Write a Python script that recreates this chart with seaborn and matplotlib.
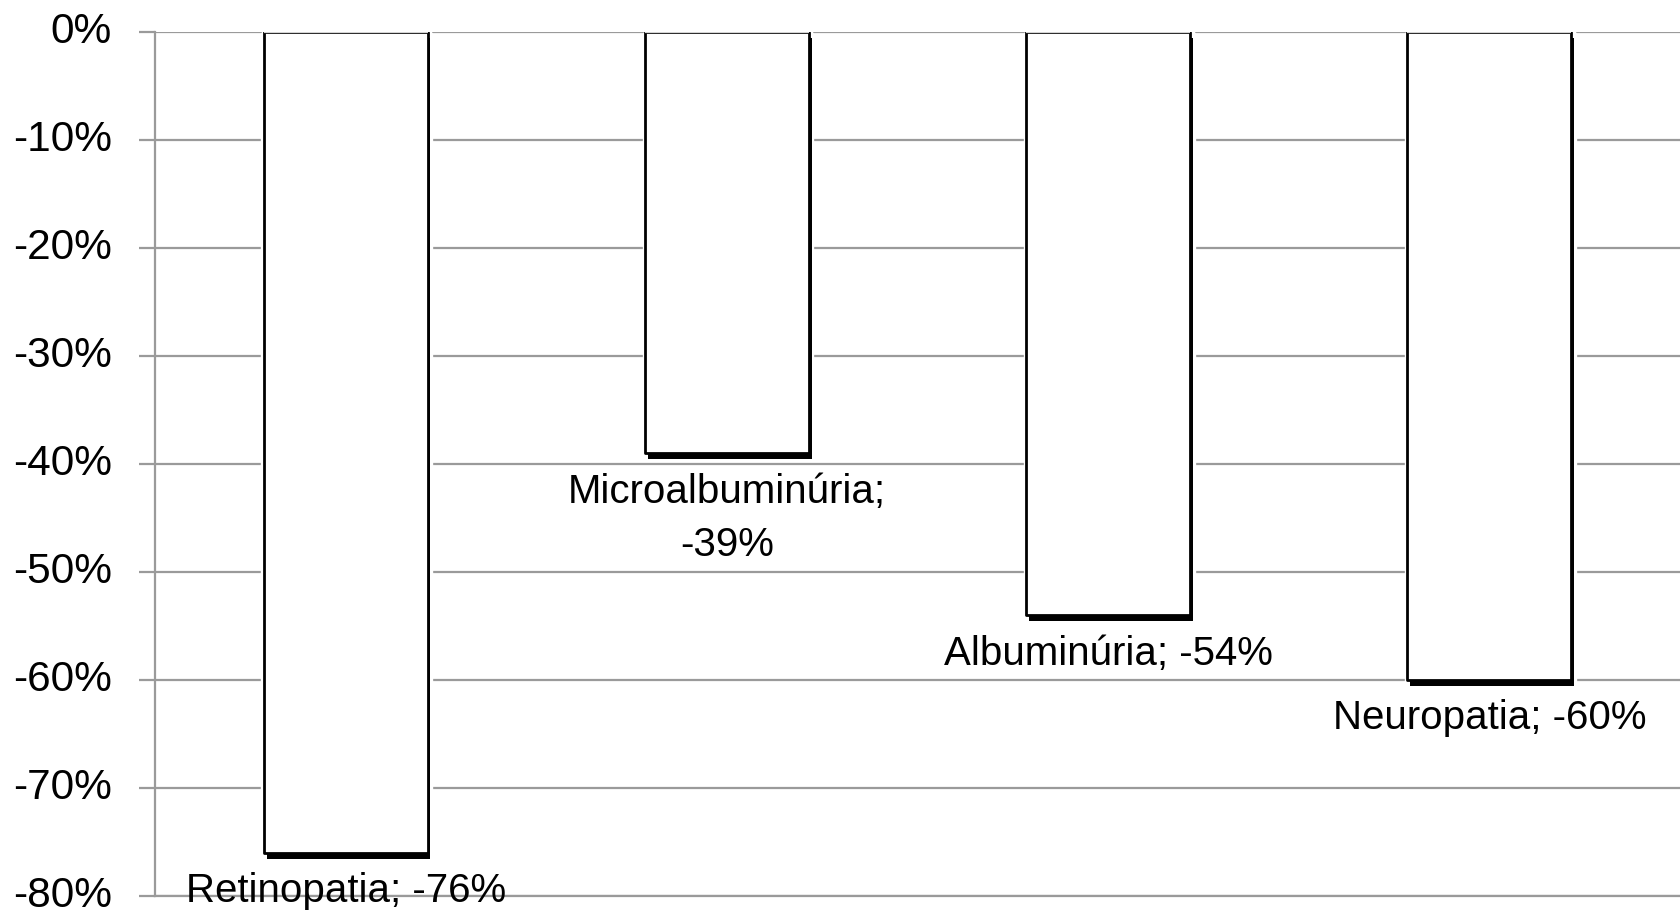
import matplotlib
matplotlib.use("Agg")
import matplotlib.pyplot as plt
import matplotlib.patheffects as pe
from matplotlib.ticker import FuncFormatter
import seaborn as sns
import pandas as pd

# Redução relativa de complicações
categories = ["Retinopatia", "Microalbuminúria", "Albuminúria", "Neuropatia"]
values = [-76, -39, -54, -60]
label_texts = ["Retinopatia; -76%", "Microalbuminúria;\n-39%", "Albuminúria; -54%", "Neuropatia; -60%"]
y_ticks = [0, -10, -20, -30, -40, -50, -60, -70, -80]

sns.set_theme(style="white")
plt.rcParams["font.family"] = ["Liberation Sans", "DejaVu Sans"]

df = pd.DataFrame({"categoria": categories, "valor": values})

fig = plt.figure(figsize=(16.8, 9.15), dpi=100)
ax = fig.add_axes([0.0925, 0.021, 0.9075, 0.944])

grid_color = "#9a9a9a"

sns.barplot(data=df, x="categoria", y="valor", color="white", width=0.43,
            edgecolor="black", linewidth=2.0, ax=ax, zorder=3)

for patch in ax.patches:
    patch.set_clip_on(True)
    patch.set_joinstyle("round")
    patch.set_path_effects([
        pe.Stroke(linewidth=6, foreground="white", offset=(1.0, -2.5)),
        pe.SimplePatchShadow(offset=(1.8, -4.5), shadow_rgbFace="black", alpha=1.0, rho=1),
        pe.Normal(),
    ])
    # faint top edge along the zero line
    ax.hlines(0, patch.get_x(), patch.get_x() + patch.get_width(),
              color="#d4d4d4", linewidth=1.6, zorder=5)

ax.set_ylim(-80, 0)
ax.set_xlim(-0.5, 3.5)
ax.set_yticks(y_ticks)
ax.yaxis.set_major_formatter(FuncFormatter(lambda v, _: f"{int(round(v))}%"))
ax.set_xticks([])
ax.set_xlabel("")
ax.set_ylabel("")

ax.grid(axis="y", color=grid_color, linewidth=1.6, zorder=0)
ax.set_axisbelow(True)

for side in ["top", "right"]:
    ax.spines[side].set_visible(False)
ax.spines["bottom"].set_color(grid_color)
ax.spines["bottom"].set_linewidth(1.6)
ax.spines["left"].set_color(grid_color)
ax.spines["left"].set_linewidth(1.6)

ax.tick_params(axis="y", which="major", direction="out", length=11.5, width=1.6,
               color=grid_color, labelsize=30.5, labelcolor="black", pad=20, left=True)
for lbl in ax.get_yticklabels():
    lbl.set_verticalalignment("center")

for i, (v, txt) in enumerate(zip(values, label_texts)):
    ax.annotate(txt, xy=(i, v), xytext=(0, -14), textcoords="offset points",
                ha="center", va="top", fontsize=29, color="black",
                linespacing=1.5, zorder=6, annotation_clip=False)

fig.savefig("out.png", dpi=100, facecolor="white")
